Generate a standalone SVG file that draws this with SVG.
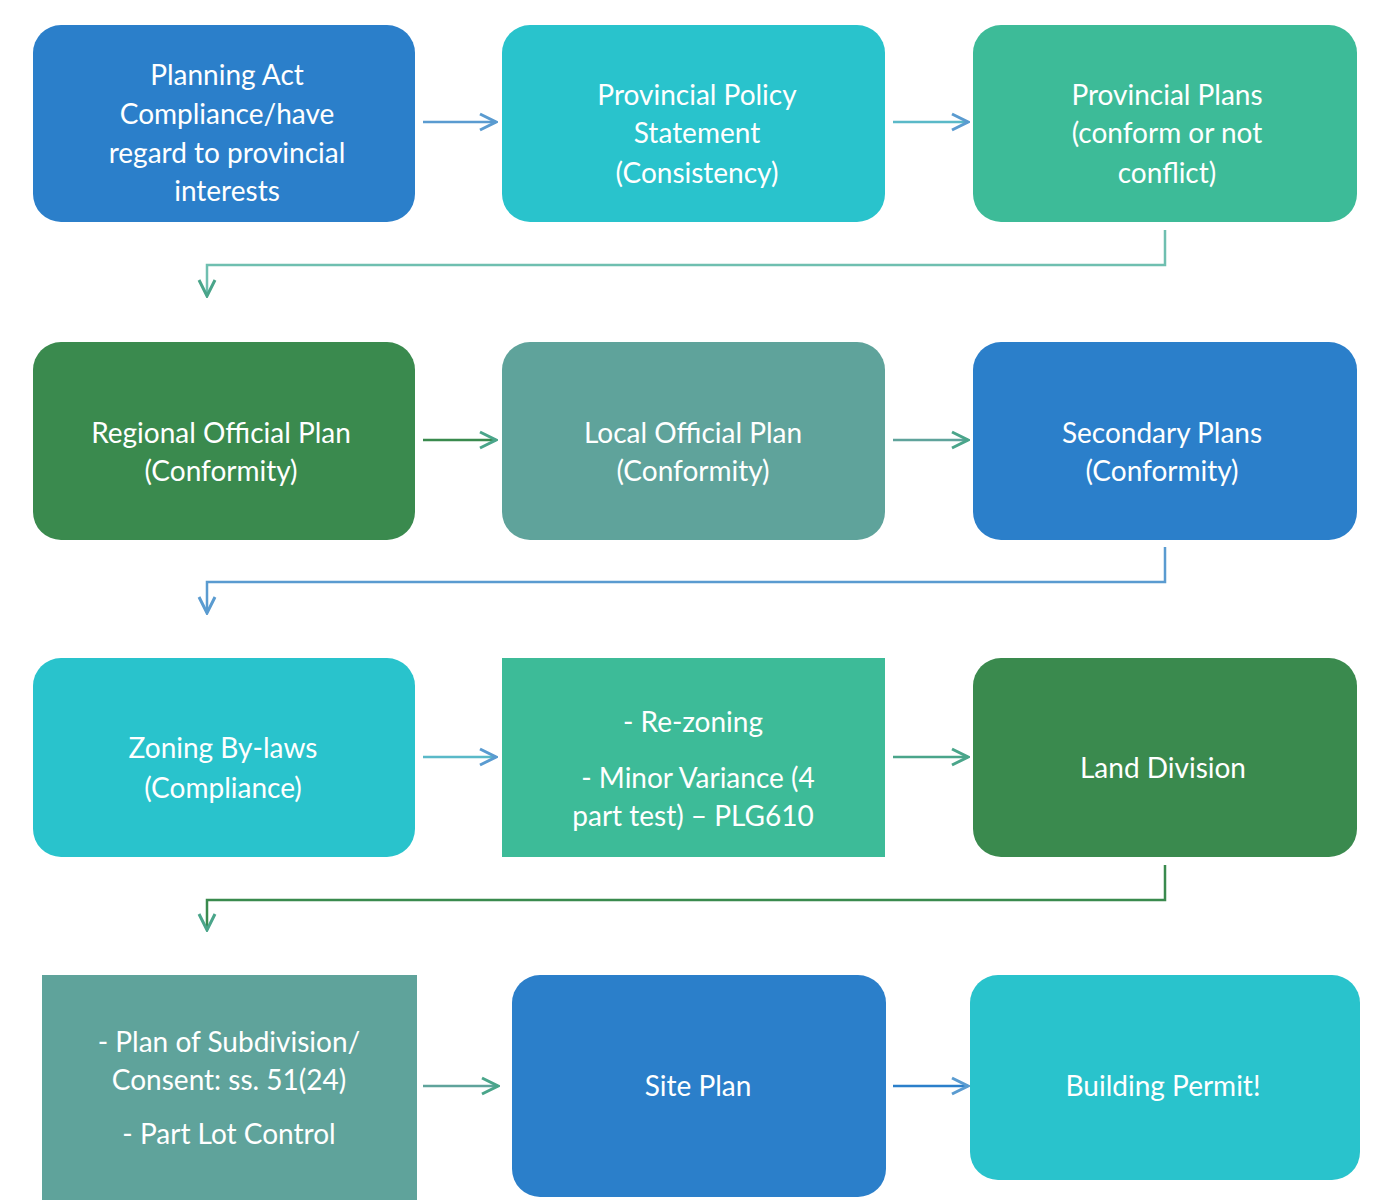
<svg xmlns="http://www.w3.org/2000/svg" width="1388" height="1200" viewBox="0 0 1388 1200">
<defs>
<style>
text{font-family:Lato,"Open Sans","Liberation Sans",sans-serif;font-size:28px;fill:#fff;text-anchor:middle}
.blue{fill:#2b7fca}.cyan{fill:#29c3cc}.teal{fill:#3dbb98}.green{fill:#3a8a4e}.gray{fill:#5fa39b}
.c{fill:none;stroke-width:2.5}
</style>
<marker id="ab" viewBox="0 0 10 10" refX="9" refY="5" markerWidth="8" markerHeight="8" orient="auto"><path d="M1 1L9 5L1 9" fill="none" stroke="#5a9bd0" stroke-width="1.5"/></marker>
<marker id="ag" viewBox="0 0 10 10" refX="9" refY="5" markerWidth="8" markerHeight="8" orient="auto"><path d="M1 1L9 5L1 9" fill="none" stroke="#4aa58a" stroke-width="1.5"/></marker>
</defs>
<rect width="1388" height="1200" fill="#fff"/>
<g id="n1"><rect class="blue" x="33" y="25" width="382" height="197" rx="28"/><text x="227" y="85">Planning Act</text><text x="227" y="124">Compliance/have</text><text x="227" y="163">regard to provincial</text><text x="227" y="201">interests</text></g>
<g id="n2"><rect class="cyan" x="502" y="25" width="383" height="197" rx="28"/><text x="697" y="105">Provincial Policy</text><text x="697" y="143">Statement</text><text x="697" y="183">(Consistency)</text></g>
<g id="n3"><rect class="teal" x="973" y="25" width="384" height="197" rx="28"/><text x="1167" y="105">Provincial Plans</text><text x="1167" y="143">(conform or not</text><text x="1167" y="183">conflict)</text></g>
<g id="n4"><rect class="green" x="33" y="342" width="382" height="198" rx="28"/><text x="221" y="443">Regional Official Plan</text><text x="221" y="481">(Conformity)</text></g>
<g id="n5"><rect class="gray" x="502" y="342" width="383" height="198" rx="28"/><text x="693" y="443">Local Official Plan</text><text x="693" y="481">(Conformity)</text></g>
<g id="n6"><rect class="blue" x="973" y="342" width="384" height="198" rx="28"/><text x="1162" y="443">Secondary Plans</text><text x="1162" y="481">(Conformity)</text></g>
<g id="n7"><rect class="cyan" x="33" y="658" width="382" height="199" rx="28"/><text x="223" y="758">Zoning By-laws</text><text x="223" y="798">(Compliance)</text></g>
<g id="n8"><rect class="teal" x="502" y="658" width="383" height="199"/><text x="693" y="732">- Re-zoning</text><text x="698" y="788">- Minor Variance  (4</text><text x="693" y="826">part test) – PLG610</text></g>
<g id="n9"><rect class="green" x="973" y="658" width="384" height="199" rx="28"/><text x="1163" y="778">Land Division</text></g>
<g id="n10"><rect class="gray" x="42" y="975" width="375" height="225"/><text x="229" y="1052">- Plan of Subdivision/</text><text x="229" y="1090">Consent: ss. 51(24)</text><text x="229" y="1144">- Part Lot Control</text></g>
<g id="n11"><rect class="blue" x="512" y="975" width="374" height="222" rx="28"/><text x="698" y="1096">Site Plan</text></g>
<g id="n12"><rect class="cyan" x="970" y="975" width="390" height="205" rx="28"/><text x="1163" y="1096">Building Permit!</text></g>
<g id="connectors">
<path class="c" stroke="#5a9bd0" d="M423 122H496" marker-end="url(#ab)"/>
<path class="c" stroke="#5ab9c8" d="M893 122H968" marker-end="url(#ab)"/>
<path class="c" stroke="#6fbfb0" d="M1165 230V265H207V296" marker-end="url(#ag)"/>
<path class="c" stroke="#3a8a4e" d="M423 440H496" marker-end="url(#ag)"/>
<path class="c" stroke="#5fa39b" d="M893 440H968" marker-end="url(#ag)"/>
<path class="c" stroke="#5a9bd0" d="M1165 547V582H207V613" marker-end="url(#ab)"/>
<path class="c" stroke="#5ab9c8" d="M423 757H496" marker-end="url(#ab)"/>
<path class="c" stroke="#4aa58a" d="M893 757H968" marker-end="url(#ag)"/>
<path class="c" stroke="#3a8a4e" d="M1165 865V900H207V930" marker-end="url(#ag)"/>
<path class="c" stroke="#5fa39b" d="M423 1086H498" marker-end="url(#ag)"/>
<path class="c" stroke="#2b7fca" d="M893 1086H968" marker-end="url(#ab)"/>
</g>
</svg>
